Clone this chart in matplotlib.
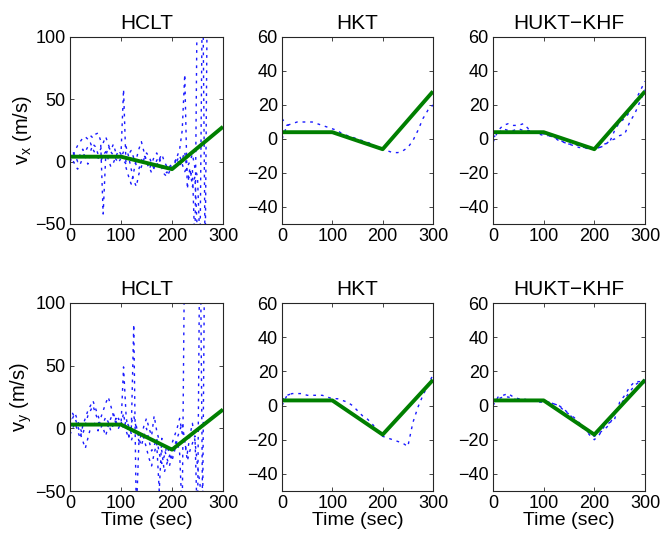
import numpy as np
import matplotlib
matplotlib.use("Agg")
import matplotlib.pyplot as plt

plt.rcParams['font.family'] = ['Liberation Sans', 'DejaVu Sans']

# ---------------- data ----------------
truth_t = [0, 100, 200, 300]
vx_true = [4, 4, -6, 28]
vy_true = [3, 3, -17, 15]

# HCLT estimates sampled every 5 s (0..300)
t5 = list(range(0, 301, 5))
vx_hclt_a = [0, 4, 9, 13, 16, 19, 20, 18, 21, 19, 22, 23, 17, -42, 4, 12, 9, 14, 7, 2, 5,
             1, -2, 6, 9, 3, -3, -6, 1, 5, 2, -4, -9, -5, 1, 4, -3, -7, -9, -4, -2,
             0, 3, -4, 2, 8, -10, -14, -6, -70, 160, 180, 200, 220, 240, 260, 280, 300, 320, 340, 360]
vx_hclt_b = [6, 2, -3, -6, -2, 3, 8, 12, 15, 10, 6, 3, 0, 5, 8, 2, -4, -1, 4, 9, 6,
             58, -5, -12, -18, -8, 2, 10, 16, 8, 0, -6, -2, 4, 7, 2, -5, -10, -12, -8, -6,
             -3, 1, 5, -2, -8, -4, 0, 6, -5, -12, -70, 160, -80, 180, 200, 220, 240, 260, 280, 300]
vx_hclt_c = [3, 8, 5, 0, 6, 10, 4, -2, 8, 14, 12, 6, 10, 15, 20, 14, 8, 5, 2, -1, 3,
             8, 12, 4, -6, -15, -20, -10, -4, 2, 7, 4, -1, -6, -3, 2, 6, 0, -4, -6, -3,
             -2, 4, 10, 25, 70, -22, -5, -20, -12, -60, -80, -100, -120, -140, -160, -180, -200, -220, -240, -260]

vy_hclt_a = [2, 8, 12, 6, 0, -5, 3, 10, 14, 18, 12, 6, 0, 4, 9, 5, -2, 3, 8, 4, 2,
             49, 10, -6, -10, -4, 2, -8, -14, -6, 0, -10, -18, -14, -8, -20, -28, -22, -14, -20, -26,
             -18, -10, -20, -70, 160, 180, 200, 220, 240, 260, 280, 300, 320, 340, 360, 380, 400, 420, 440, 460]
vy_hclt_b = [-5, 0, 4, -2, -8, 2, 8, 14, 18, 22, 16, 10, 4, 0, -6, 2, 8, 12, 6, 0, 4,
             0, 6, 2, -4, 83, -70, -12, -4, -8, -16, -24, -30, -20, -12, -50, -8, -16, -24, -30, -22,
             -14, -8, -2, 4, -10, -26, -18, -12, -6, -80, 180, -70, 200, 220, 240, 260, 280, 300, 320, 340]
vy_hclt_c = [6, 12, 8, 2, -4, -10, -16, -8, 0, 6, 3, -2, 8, 14, 20, 25, 18, 10, 4, 8, 3,
             12, -2, -8, 4, 10, 0, -10, -6, 2, 8, 0, -6, 10, -2, -10, -18, -35, -28, -22, -12,
             -6, 0, 8, -4, -12, -20, -6, 4, -10, -30, -45, -100, -120, -140, -160, -180, -200, -220, -240, -260]

# HKT / HUKT-KHF estimates sampled every 10 s (0..300)
t10 = list(range(0, 301, 10))
vx_hkt_a = [0, 8, 9, 10, 10, 10, 10, 9, 8, 7, 6, 5, 3, 2, 1, 0, -1, -2, -3, -5, -6,
            -7, -8, -8, -7, -5, -1, 5, 12, 17, 20]
vx_hkt_b = [12, 8, 9] + [np.nan] * 28
vy_hkt_a = [0, 6, 7, 7, 7, 6, 6, 6, 6, 5, 4, 4, 3, 2, 0, -3, -6, -8, -11, -15, -18,
            -19, -20, -21, -22, -24, -10, -1, 6, 12, 18]
vy_hkt_b = [3, 6, 7] + [np.nan] * 28

vx_hukt_a = [-2, 5, 8, 9, 8, 8, 9, 6, 4, 3, 2, 2, 1, 0, -2, -3, -3, -4, -5, -5, -6,
             -5, -3, -2, 5, 10, 12, 16, 22, 28, 34]
vx_hukt_b = [1, 3, 6, 5, 5, 6, 5, 5, 4, 4, 3, 2, 1, -1, -2, -3, -4, -5, -5, -6, -6,
             -5, -4, -1, 0, 2, 3, 10, 15, 22, 29]
vy_hukt_a = [0, 5, 6, 7, 5, 4, 4, 3, 3, 2, 2, 2, 1, 0, -3, -5, -7, -10, -13, -17, -20,
             -17, -12, -10, -8, 2, 6, 11, 14, 14, 13]
vy_hukt_b = [2, 4, 5, 5, 4, 3, 3, 3, 3, 3, 3, 2, 1, 0, -2, -5, -8, -11, -14, -16, -18,
             -16, -14, -11, -5, 0, 4, 8, 12, 14, 15]

titles = ["HCLT", "HKT", "HUKT\u2212KHF"]

# ---------------- figure ----------------
fig = plt.figure(figsize=(6.62, 5.40), dpi=100)

lefts = [70 / 662, 282 / 662, 493 / 662]
widths = [153 / 662, 151 / 662, 152 / 662]
bottoms = [1 - 224 / 540, 1 - 491 / 540]
heights = [187 / 540, 188 / 540]

est = [
    [[(t5, vx_hclt_a), (t5, vx_hclt_b), (t5, vx_hclt_c)],
     [(t10, vx_hkt_a), (t10, vx_hkt_b)],
     [(t10, vx_hukt_a), (t10, vx_hukt_b)]],
    [[(t5, vy_hclt_a), (t5, vy_hclt_b), (t5, vy_hclt_c)],
     [(t10, vy_hkt_a), (t10, vy_hkt_b)],
     [(t10, vy_hukt_a), (t10, vy_hukt_b)]],
]
truths = [vx_true, vy_true]
ylabels = [r"v$_\mathregular{x}$ (m/s)", r"v$_\mathregular{y}$ (m/s)"]

frame_col = "#262626"
for r in range(2):
    for c in range(3):
        ax = fig.add_axes([lefts[c], bottoms[r], widths[c], heights[r]])
        for (tt, vv) in est[r][c]:
            ax.plot(tt, vv, color="#1a1aff", lw=1.0, linestyle=(0, (2.0, 3.5)))
        ax.plot(truth_t, truths[r], color="#007f00", lw=2.8, solid_capstyle="butt")
        ax.set_xlim(0, 300)
        ax.set_xticks([0, 100, 200, 300])
        if c == 0:
            ax.set_ylim(-50, 100)
            ax.set_yticks([-50, 0, 50, 100])
            ax.set_ylabel(ylabels[r], fontsize=14.5, labelpad=1)
        else:
            ax.set_ylim(-50, 60)
            ax.set_yticks([-40, -20, 0, 20, 40, 60])
        ax.set_title(titles[c], fontsize=15, pad=6)
        if r == 1:
            ax.set_xlabel("Time (sec)", fontsize=14, labelpad=0)
        ax.tick_params(direction="in", top=True, right=True, length=3,
                       width=0.6, labelsize=13, colors=frame_col, labelcolor="black", pad=3)
        for sp in ax.spines.values():
            sp.set_color(frame_col)
            sp.set_linewidth(0.8)

fig.savefig("out.png", dpi=100)
